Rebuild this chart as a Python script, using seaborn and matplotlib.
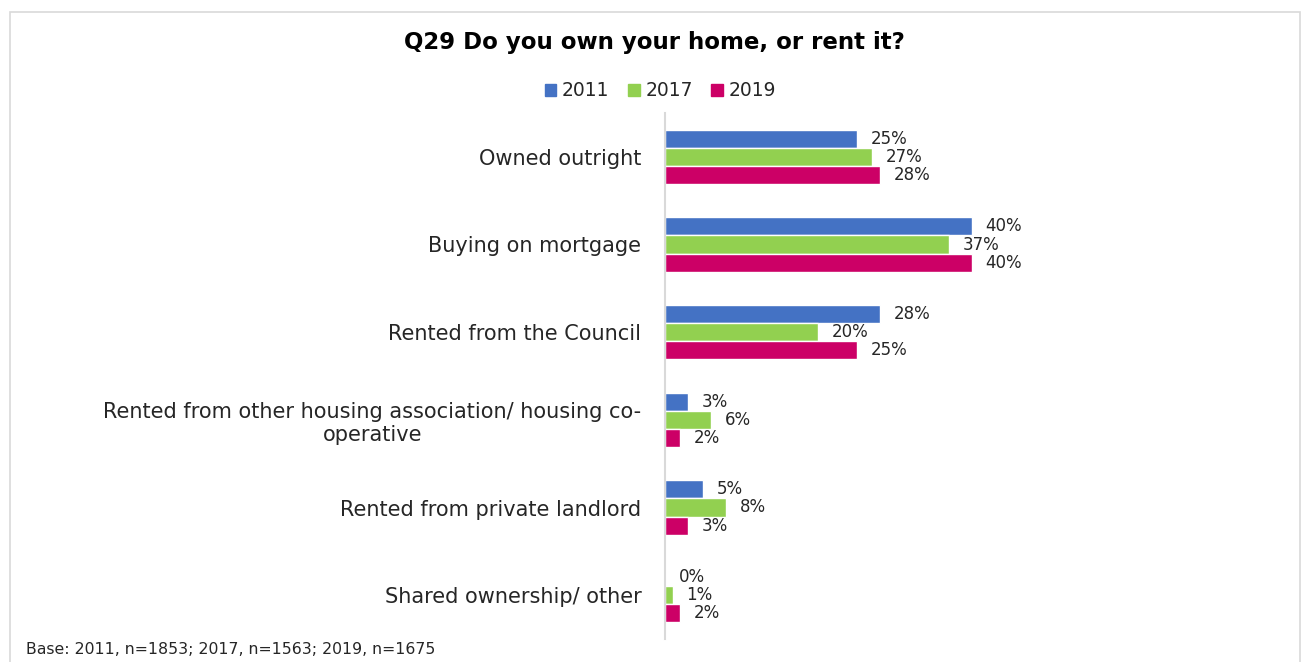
import matplotlib
matplotlib.use("Agg")
import matplotlib.pyplot as plt
import matplotlib.patches as mpatches
import seaborn as sns
import pandas as pd

# Dữ liệu
categories = ["Owned outright", "Buying on mortgage", "Rented from the Council",
              "Rented from other housing association/ housing co-\noperative",
              "Rented from private landlord", "Shared ownership/ other"]
years = ["2011", "2017", "2019"]
v2011 = [25, 40, 28, 3, 5, 0]
v2017 = [27, 37, 20, 6, 8, 1]
v2019 = [28, 40, 25, 2, 3, 2]
colors = ["#4472C4", "#92D050", "#CC0066"]

rows = []
for year, vals in zip(years, [v2011, v2017, v2019]):
    for cat, v in zip(categories, vals):
        rows.append({"cat": cat, "year": year, "value": v})
df = pd.DataFrame(rows)

sns.set_style("white")
plt.rcParams["font.family"] = ["DejaVu Sans"]

fig = plt.figure(figsize=(13.08, 6.62), dpi=100)
# khung viền của biểu đồ
fig.patches.append(mpatches.Rectangle((10 / 1308, -0.01), 1290 / 1308, 1 - 12 / 662 + 0.01,
                                      transform=fig.transFigure, fill=False,
                                      edgecolor="#D9D9D9", linewidth=1.2))

ax = fig.add_axes([665 / 1308, 1 - 639 / 662, 345 / 1308, 526 / 662])
sns.barplot(data=df, y="cat", x="value", hue="year", palette=colors,
            orient="h", width=0.62, ax=ax, legend=False, saturation=1)

for cont in ax.containers:
    ax.bar_label(cont, labels=[f"{int(b.get_width())}%" for b in cont],
                 padding=10, fontsize=12, color="#262626")

ax.set_xlim(0, 45)
ax.set_ylim(5.5, -0.5)
ax.set_xlabel("")
ax.set_ylabel("")
ax.set_xticks([])
for s in ["top", "right", "bottom"]:
    ax.spines[s].set_visible(False)
ax.spines["left"].set_color("#D9D9D9")
ax.spines["left"].set_linewidth(1.5)
ax.tick_params(axis="y", length=0, pad=17, labelsize=15, labelcolor="#262626")
for t in ax.get_yticklabels():
    t.set_multialignment("center")

fig.text(0.5, 1 - 42 / 662, "Q29 Do you own your home, or rent it?", ha="center",
         va="center", fontsize=16.5, fontweight="bold", color="#000000")

handles = [mpatches.Patch(color=c, label=y) for c, y in zip(colors, years)]
fig.legend(handles=handles, loc="center", bbox_to_anchor=(0.505, 1 - 91 / 662), ncol=3,
           frameon=False, fontsize=13.5, handlelength=0.6, handleheight=0.6,
           handletextpad=0.3, columnspacing=1.0)

fig.text(26 / 1308, 1 - 649 / 662, "Base: 2011, n=1853; 2017, n=1563; 2019, n=1675",
         ha="left", va="center", fontsize=11.3, color="#262626")

fig.savefig("out.png", dpi=100)
